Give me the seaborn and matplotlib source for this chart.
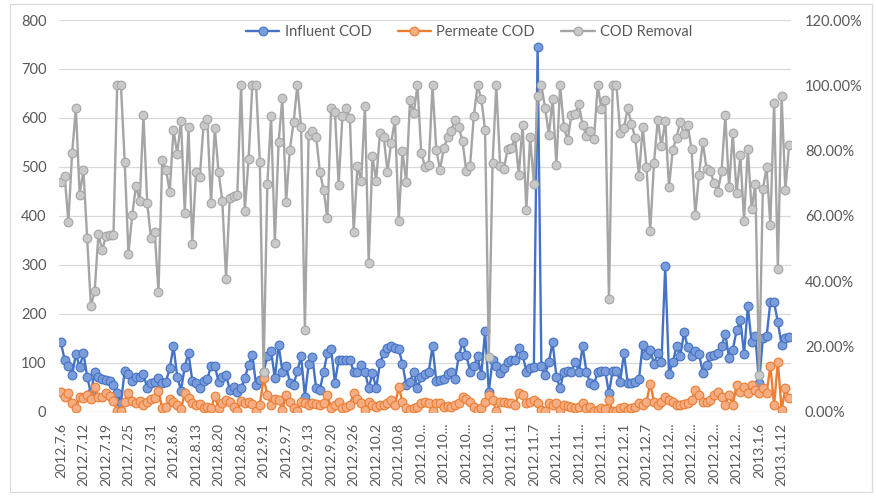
import matplotlib
matplotlib.use("Agg")
import matplotlib.pyplot as plt
from matplotlib.patches import Rectangle
from matplotlib.ticker import MultipleLocator, PercentFormatter
import numpy as np
import pandas as pd
import seaborn as sns

# Influent COD, mg/L (left axis)
INFLUENT = [
    141.5, 106, 93.6, 75.2, 118.3, 90.9, 119.6, 71.8, 37.6, 82.0,
    70.0, 66.3, 64.9, 63.6, 54.7, 37.6, 17.1, 84.1, 77.2, 63.6,
    70.4, 71.8, 77.2, 47.8, 58.1, 61.5, 68.4, 59.5, 61.5, 88.9,
    133.3, 71.8, 43.1, 92.3, 119.6, 63.6, 59.5, 47.8, 63.6, 66.0,
    93.6, 93.6, 61.5, 71.8, 75.2, 44.4, 51.3, 41.0,
    47.8, 68.4, 95.7, 116.2, 54.7, 64.9, 82.0, 112.8, 124.4, 68.4,
    136.7, 82.0, 94.3, 59.5, 54.7, 84.1, 112.8, 30.8, 97.7, 110.7,
    47.8, 44.4, 82.0, 119.6, 127.8, 59.5, 106, 106, 106, 106,
    82, 82, 95.7, 82, 47.8, 78.6, 47.8, 99.1, 119.6, 129.9,
    134.7, 129.9, 127.8, 97.7, 54.7, 61.5, 82.0,
    47.8, 71.8, 77.2, 82.0, 133.3, 63.6, 65.0, 66.3, 77.2, 82.0,
    66.3, 114.1, 141.5, 116.2, 82.0, 93.6, 112.8, 75.2, 164.0, 41.0,
    106.0, 93.6, 78.6, 88.9, 102.5, 106, 106, 129.9, 116.2, 82.0,
    88.9, 92.3, 745, 93.6, 75.2, 102.5, 141.5, 71.8, 47.8, 82.0,
    84.1, 82.0, 102.5, 82.0, 133.3, 82.0, 58.1, 54.7,
    82.0, 84.0, 84.1, 37.6, 84.1, 84.1, 61.5, 119.6, 58.1, 59.5,
    61.5, 66.3, 136.7, 116.2, 126.5, 97.7, 119.6, 102.5, 297.3, 77.2,
    100.5, 133.3, 112.8, 162.0, 131.9, 114.1, 123.0, 118.3, 80.0, 95.7,
    112.8, 115.0, 119.6, 133.3, 159.3, 109.4, 126.5, 166.1, 186.6, 118.3,
    215.3, 141.5, 153.8, 58.1, 150.0, 153.8, 223.5, 223.5, 182.5, 136.7,
    150.4, 152.4,
]

# Permeate COD, mg/L (left axis)
PERMEATE = [
    41.0, 29.4, 39.0, 17.1, 6.8, 29.4, 27.3, 34.2, 25.3, 49.9,
    30.8, 30.0, 37.6, 32.1, 22.6, 1, 1, 20.5, 39.0, 22.6,
    17.1, 22.6, 13.7, 20.5, 25.3, 27.3, 43.1, 6.8, 10.3, 25.3,
    20.5, 13.7, 4.8, 37.6, 27.3, 17.1, 13.7, 15.0, 6.8, 10.3,
    6.8, 32.1, 6.8, 17.1, 23.9, 20.5, 10.3, 1,
    22.6, 18.5, 20.0, 15.7, 1, 13.7, 68.4, 34.2, 13.7, 25.3,
    23.9, 3.4, 34.2, 20.5, 6.8, 1, 20.5, 17.1, 13.7, 17.1,
    15.0, 13.7, 17.1, 34.2, 6.8, 13.7, 20.5, 6.8, 10.3, 13.7,
    39.0, 25.3, 17.1, 3.4, 20.5, 13.7, 10.3, 13.7, 13.7, 17.1,
    23.9, 13.7, 49.9, 20.5, 6.8, 3.4, 6.8, 10.3,
    17.1, 20.5, 17.1, 1, 17.1, 18.5, 10.3, 12.0, 8.9, 13.7,
    18.5, 30.8, 25.3, 20.5, 10.3, 3.4, 6.8, 20.5, 34.2, 23.9,
    1, 20.5, 20.5, 17.1, 18.5, 13.7, 37.6, 34.2, 17.1, 20.5,
    23.9, 17.1, 3.4, 1, 17.1, 13.7, 17.1, 3.4, 13.7, 12.0,
    10.3, 6.8, 10.3, 17.1, 6.8, 10.3, 1, 3.4,
    6.8, 4.8, 23.9, 1, 1, 6.8, 10.3, 3.4, 6.8, 10.3,
    17.1, 13.7, 20.5, 56.7, 20.5, 13.7, 20.5, 29.4, 23.9, 20.5,
    13.7, 13.7, 15.0, 17.1, 23.9, 44.4, 34.2, 20.5, 20.5, 23.9,
    34.2, 41.0, 30.8, 13.7, 34.2, 13.7, 54.7, 41.0, 51.3, 37.6,
    54.7, 44.4, 37.6, 47.8, 37.6, 93.6, 13.7, 102.5, 3.4, 47.8,
    27.3,
]

# COD removal, % (right axis)
REMOVAL_PCT = [
    70.3, 72.3, 58.2, 79.3, 93.0, 66.4, 74.1, 53.1, 32.3, 36.9,
    54.4, 49.5, 53.8, 54.2, 54.0, 100, 100, 76.6, 48.4, 60.2,
    69.2, 64.6, 90.8, 63.9, 53.1, 54.9, 36.7, 77.2, 74.1, 67.4,
    86.4, 79.0, 89.2, 61.0, 87.2, 51.5, 73.5, 71.8, 87.7, 89.7,
    63.9, 87.0, 73.5, 64.6, 40.8, 65.6, 66.0, 66.4,
    100, 61.5, 77.4, 100, 100, 76.6, 12.3, 69.7, 90.6, 51.8,
    82.6, 96.1, 64.3, 80.3, 88.7, 100, 87.2, 24.9, 84.8, 86.0,
    84.3, 73.5, 67.9, 59.3, 93.0, 91.8, 69.5, 90.6, 93.0, 90.1,
    54.9, 75.2, 70.8, 93.6, 45.6, 78.2, 70.8, 85.4, 84.3, 73.5,
    82.4, 89.5, 58.5, 80.0, 70.3, 95.4, 91.6, 100,
    79.2, 75.1, 75.6, 100, 80.3, 74.1, 80.7, 84.1, 86.0, 89.5,
    87.2, 82.9, 73.6, 75.2, 90.6, 100, 95.7, 86.4, 16.9, 76.2,
    100, 75.4, 74.2, 80.5, 80.7, 84.1, 72.6, 87.9, 61.8, 84.1,
    69.9, 96.7, 100, 93.0, 84.8, 95.9, 75.6, 100, 87.2, 83.1,
    91.0, 91.3, 94.2,
    87.7, 84.6, 86.0, 83.4, 100, 92.6, 95.4, 34.6, 100, 100,
    85.4, 86.9, 93.0, 88.2, 83.8, 72.3, 87.2, 75.1, 55.4, 76.2,
    89.5, 81.3, 89.2, 68.7, 80.3, 84.0, 88.7, 85.1, 87.7, 80.5,
    60.2, 72.6, 82.6, 74.4, 73.8, 70.1, 67.4, 73.6, 90.8, 68.7,
    85.4, 66.9, 78.5, 58.5, 80.5, 62.1, 69.7, 11.1, 68.2, 74.9,
    57.2, 94.7, 43.6, 96.6, 67.9, 81.8,
]

# category labels shown every 6th sample (Excel truncates the long ones)
TICK_LABELS = [
    "2012.7.6", "2012.7.12", "2012.7.19", "2012.7.25", "2012.7.31",
    "2012.8.6", "2012.8.13", "2012.8.20", "2012.8.26", "2012.9.1",
    "2012.9.7", "2012.9.13", "2012.9.20", "2012.9.26", "2012.10.2",
    "2012.10.8", "2012.10...", "2012.10...", "2012.10...", "2012.10...",
    "2012.11.1", "2012.11.7", "2012.11...", "2012.11...", "2012.11...",
    "2012.12.1", "2012.12.7", "2012.12...", "2012.12...", "2012.12...",
    "2012.12...", "2013.1.6", "2013.1.12",
]
TICK_STEP = 6

BLUE, BLUE_FILL = "#4472C4", "#7B9CDA"
ORANGE, ORANGE_FILL = "#ED7D31", "#F5AE84"
GREY, GREY_FILL = "#A5A5A5", "#C9C9C9"
TEXT = "#595959"
W, H = 876, 496


def series(ax, df, col, color, fill, label):
    sns.lineplot(data=df, x="pos", y=col, ax=ax, color=color, linewidth=1.7,
                 marker="o", markersize=6.3, markerfacecolor=fill,
                 markeredgecolor=color, markeredgewidth=0.8,
                 label=label, legend=False)


def main():
    sns.set_style("white")
    plt.rcParams["font.family"] = ["Lato", "DejaVu Sans"]

    df = pd.DataFrame({"influent": INFLUENT, "permeate": PERMEATE,
                       "removal": np.array(REMOVAL_PCT) / 100.0})
    df["pos"] = np.arange(len(df))

    fig = plt.figure(figsize=(W / 100, H / 100), dpi=100)
    # chart area border like Excel
    fig.patches.append(Rectangle((10 / W, 4 / H), 862 / W, 488 / H,
                                 transform=fig.transFigure, fill=False,
                                 ec="#D9D9D9", lw=0.9))
    ax = fig.add_axes([59 / W, 1 - 411.7 / H, 732 / W, 391.7 / H])
    ax2 = ax.twinx()

    series(ax, df, "influent", BLUE, BLUE_FILL, "Influent COD")
    series(ax, df, "permeate", ORANGE, ORANGE_FILL, "Permeate COD")
    series(ax2, df, "removal", GREY, GREY_FILL, "COD Removal")

    ax.set_xlim(-0.5, len(df) - 0.5)
    ax.set_ylim(0, 800)
    ax.yaxis.set_major_locator(MultipleLocator(100))
    ax2.set_ylim(0, 1.2)
    ax2.yaxis.set_major_locator(MultipleLocator(0.2))
    ax2.yaxis.set_major_formatter(PercentFormatter(xmax=1, decimals=2))

    ax.set_xticks(df["pos"].iloc[::TICK_STEP])
    ax.set_xticklabels(TICK_LABELS, rotation=90)

    ax.grid(axis="y", color="#D9D9D9", linewidth=0.9)
    ax.grid(axis="x", visible=False)
    ax.set_axisbelow(True)
    for a in (ax, ax2):
        for s in a.spines.values():
            s.set_visible(False)
        a.set_xlabel("")
        a.set_ylabel("")
    ax.tick_params(axis="x", length=0, pad=8, labelsize=10, labelcolor=TEXT)
    ax.tick_params(axis="y", length=0, pad=9, labelsize=10.5, labelcolor=TEXT)
    ax2.tick_params(axis="y", length=0, pad=10, labelsize=10.5, labelcolor=TEXT)

    h1, l1 = ax.get_legend_handles_labels()
    h2, l2 = ax2.get_legend_handles_labels()
    fig.legend(h1 + h2, l1 + l2, loc="center",
               bbox_to_anchor=(469 / W, 1 - 32 / H), ncol=3, frameon=False,
               fontsize=10.5, handlelength=2.3, handletextpad=0.35,
               columnspacing=1.8, labelcolor=TEXT)

    fig.savefig("out.png", dpi=100)
    plt.close(fig)


if __name__ == "__main__":
    main()
